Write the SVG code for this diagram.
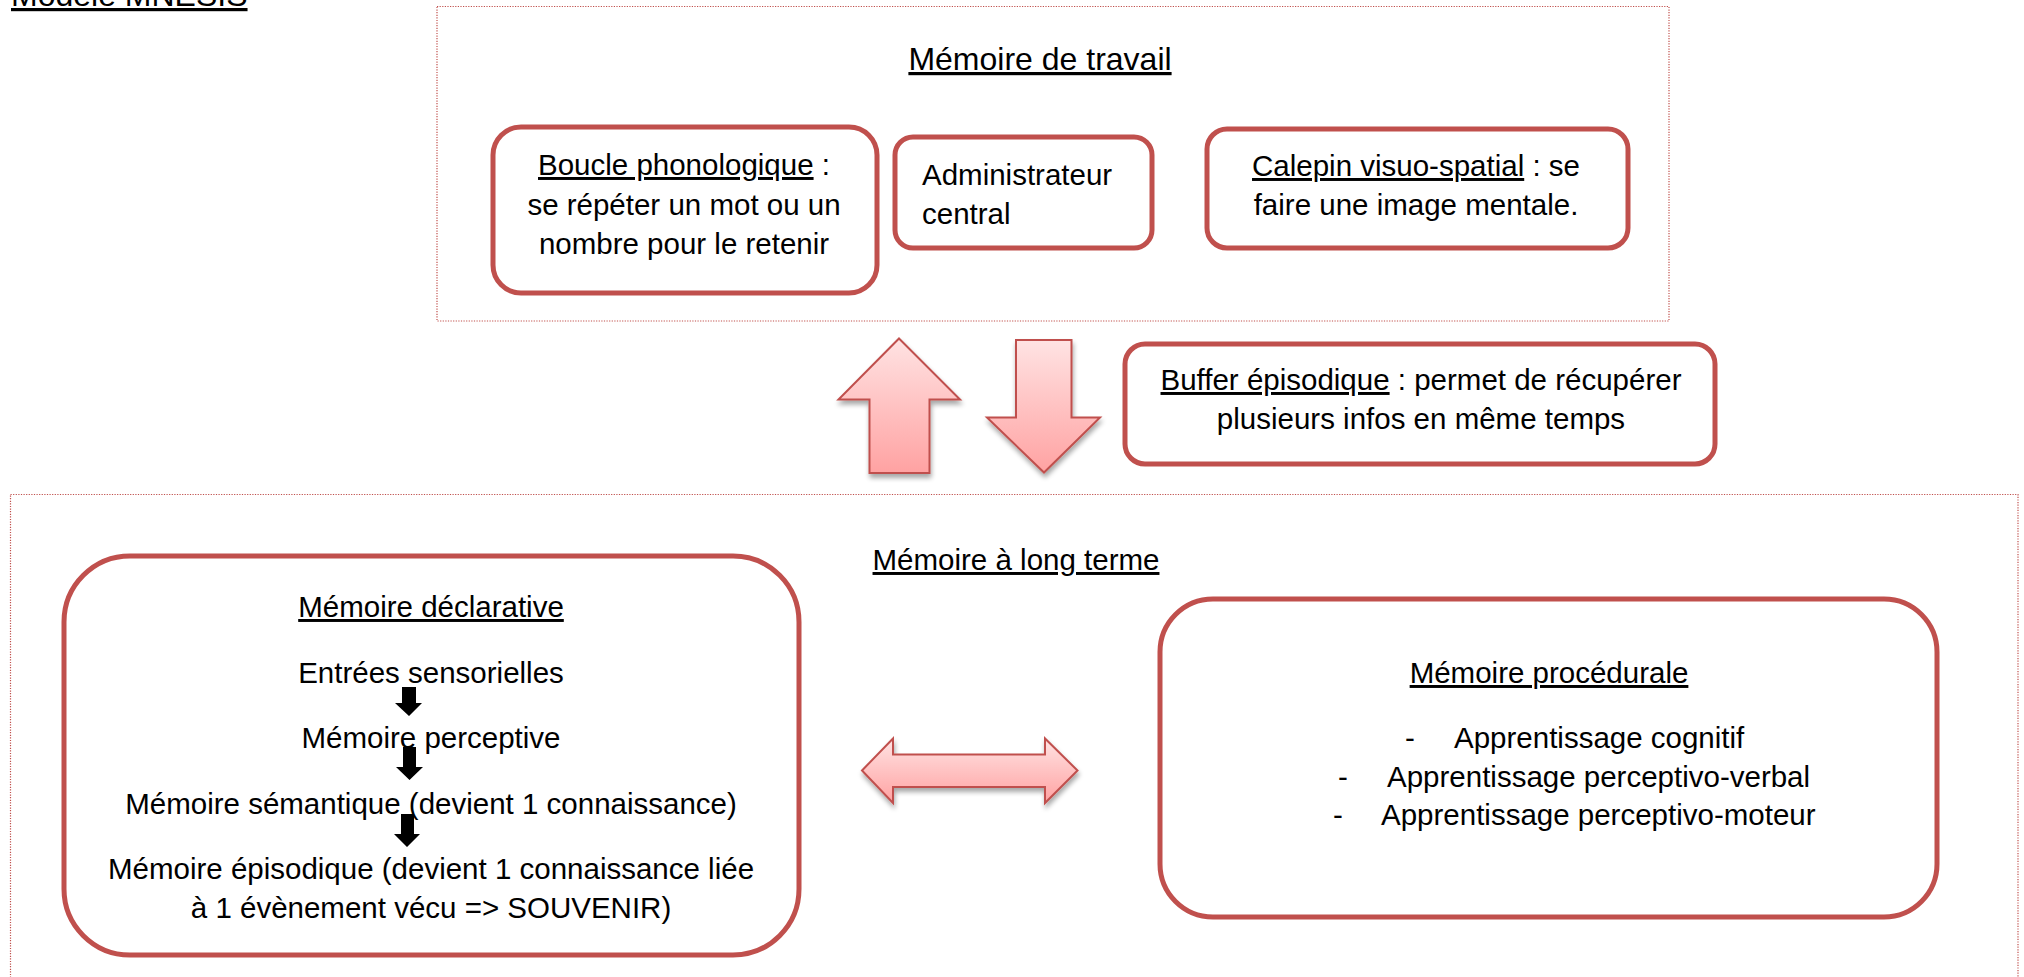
<svg xmlns="http://www.w3.org/2000/svg" width="2024" height="977" viewBox="0 0 2024 977">
<style>
text{font-family:"Liberation Sans",Arial,sans-serif;font-size:29.5px;fill:#000}
.c{text-anchor:middle}
.u{text-decoration:underline}
.big{font-size:32px}
.frame{fill:none;stroke:#c0504d;stroke-width:1.2;stroke-dasharray:1.2 1.4}
.box{fill:#fff;stroke:#c0504d;stroke-width:5}
.blk{fill:#ffcaca;stroke:#c0504d;stroke-width:2;stroke-linejoin:miter}
.bk{fill:#000}
</style>
<defs>
<linearGradient id="gv" x1="0" y1="0" x2="0" y2="1">
<stop offset="0" stop-color="#ffe3e3"/>
<stop offset="1" stop-color="#ffa2a2"/>
</linearGradient>
<filter id="sh" x="-20%" y="-20%" width="140%" height="140%">
<feGaussianBlur in="SourceAlpha" stdDeviation="2.5"/>
<feOffset dx="1" dy="4" result="b"/>
<feComponentTransfer><feFuncA type="linear" slope="0.35"/></feComponentTransfer>
<feMerge><feMergeNode/><feMergeNode in="SourceGraphic"/></feMerge>
</filter>
</defs>
<rect width="2024" height="977" fill="#fff"/>

<g id="title">
<text class="big u" x="11" y="6">Modèle MNESIS</text>
</g>

<g id="memoire-travail">
<rect class="frame" x="437" y="6.5" width="1232" height="314.5"/>
<text class="big c u" x="1040" y="70">Mémoire de travail</text>
</g>

<g id="boucle">
<rect class="box" x="493" y="127" width="384" height="166" rx="28"/>
<text class="c" x="684" y="175"><tspan class="u">Boucle phonologique</tspan> :</text>
<text class="c" x="684" y="215">se répéter un mot ou un</text>
<text class="c" x="684" y="254">nombre pour le retenir</text>
</g>

<g id="administrateur">
<rect class="box" x="895" y="137" width="257" height="111" rx="18"/>
<text x="922" y="185">Administrateur</text>
<text x="922" y="224">central</text>
</g>

<g id="calepin">
<rect class="box" x="1207" y="129" width="421" height="119" rx="20"/>
<text class="c" x="1416" y="176"><tspan class="u">Calepin visuo-spatial</tspan> : se</text>
<text class="c" x="1416" y="215">faire une image mentale.</text>
</g>

<g id="buffer">
<rect class="box" x="1125" y="344" width="590" height="120" rx="20"/>
<text class="c" x="1421" y="390"><tspan class="u">Buffer épisodique</tspan> : permet de récupérer</text>
<text class="c" x="1421" y="429">plusieurs infos en même temps</text>
</g>

<g id="memoire-long-terme">
<rect class="frame" x="10.5" y="494.5" width="2007.5" height="500"/>
<text class="c u" x="1016" y="570">Mémoire à long terme</text>
</g>

<g id="declarative">
<rect class="box" x="64" y="556" width="735" height="399" rx="66"/>
<text class="c u" x="431" y="617">Mémoire déclarative</text>
<text class="c" x="431" y="683">Entrées sensorielles</text>
<text class="c" x="431" y="748">Mémoire perceptive</text>
<text class="c" x="431" y="814">Mémoire sémantique (devient 1 connaissance)</text>
<text class="c" x="431" y="879">Mémoire épisodique (devient 1 connaissance liée</text>
<text class="c" x="431" y="918">à 1 évènement vécu =&gt; SOUVENIR)</text>
</g>

<g id="procedurale">
<rect class="box" x="1160" y="599" width="777" height="318" rx="53"/>
<text class="c u" x="1549" y="683">Mémoire procédurale</text>
<text x="1405" y="748">-</text>
<text x="1454" y="748">Apprentissage cognitif</text>
<text x="1338" y="787">-</text>
<text x="1387" y="787">Apprentissage perceptivo-verbal</text>
<text x="1333" y="825">-</text>
<text x="1381" y="825">Apprentissage perceptivo-moteur</text>
</g>

<g id="connectors">
<path class="blk" filter="url(#sh)" style="fill:url(#gv)" d="M899,338.5 L960,399.5 L929.5,399.5 L929.5,473 L869.5,473 L869.5,399.5 L838.5,399.5 Z"/>
<path class="blk" filter="url(#sh)" style="fill:url(#gv)" d="M1016,340 L1071.5,340 L1071.5,417.5 L1100,417.5 L1044,472.5 L987,417.5 L1016,417.5 Z"/>
<path class="blk" filter="url(#sh)" style="fill:url(#gv)" d="M862,770.5 L893,738.5 L893,754.5 L1045,754.5 L1045,738.5 L1077.5,770.5 L1045,803 L1045,787 L893,787 L893,803 Z"/>
<path class="bk" d="M402,687 L416,687 L416,703 L422,703 L409,716 L395,703 L402,703 Z"/>
<path class="bk" d="M403,747 L416,747 L416,767 L423,767 L409.5,780 L396,767 L403,767 Z"/>
<path class="bk" d="M401,814 L414,814 L414,834 L420,834 L407,847 L394,834 L401,834 Z"/>
</g>
</svg>
